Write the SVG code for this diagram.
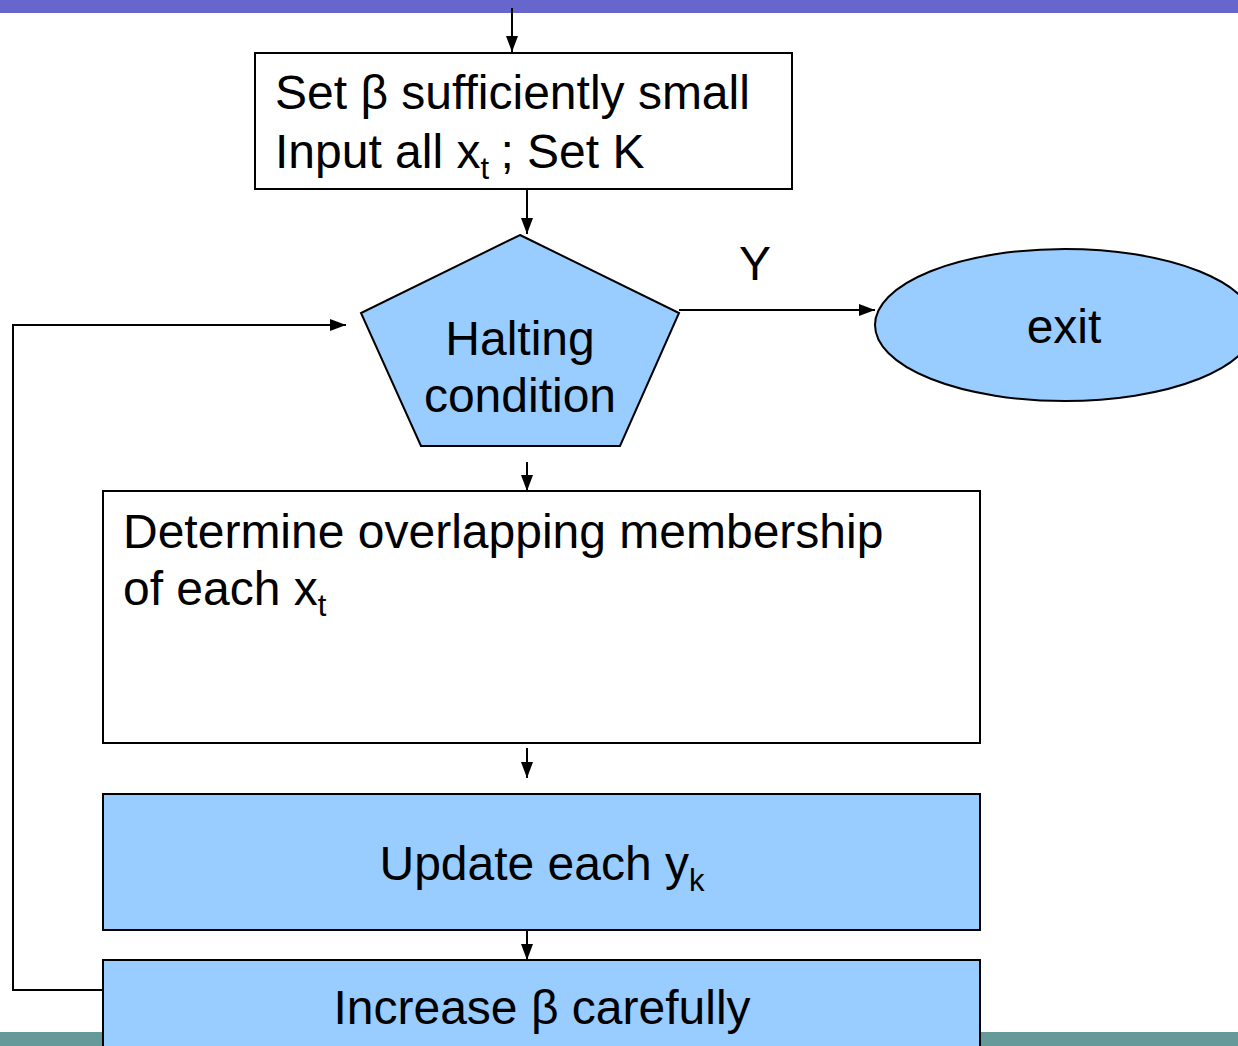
<svg xmlns="http://www.w3.org/2000/svg" width="1238" height="1046" viewBox="0 0 1238 1046">
<style>
text{font-family:"Liberation Sans",Arial,sans-serif;font-size:48px;fill:#000}
.box{stroke:#000;stroke-width:2}
.w{fill:#fff}
.b{fill:#99CCFF}
.c{fill:none;stroke:#000;stroke-width:2}
.sub{font-size:31px}
</style>
<defs>
<marker id="ah" viewBox="0 0 16 12" refX="16" refY="6" markerWidth="16" markerHeight="12" orient="auto" markerUnits="userSpaceOnUse">
<path d="M0,0 L16,6 L0,12 z" fill="#000"/>
</marker>
</defs>
<rect x="0" y="0" width="1238" height="13" fill="#6666CC"/>
<rect x="0" y="1032" width="1238" height="14" fill="#669999"/>
<g id="connectors">
<path class="c" d="M512,8 L512,52" marker-end="url(#ah)"/>
<path class="c" d="M527,190 L527,234" marker-end="url(#ah)"/>
<path class="c" d="M679,310 L875,310" marker-end="url(#ah)"/>
<path class="c" d="M527,462 L527,491" marker-end="url(#ah)"/>
<path class="c" d="M527,748 L527,778" marker-end="url(#ah)"/>
<path class="c" d="M527,931 L527,960" marker-end="url(#ah)"/>
<path class="c" d="M103,990 L13,990 L13,325 L346,325" marker-end="url(#ah)"/>
<text x="755" y="280" text-anchor="middle">Y</text>
</g>
<g id="init">
<rect class="box w" x="255" y="53" width="537" height="136"/>
<text x="275" y="109">Set β sufficiently small</text>
<text x="275" y="168">Input all x<tspan class="sub" dy="11">t</tspan><tspan dy="-11" dx="-2"> ; Set K</tspan></text>
</g>
<g id="halting">
<polygon class="box b" points="520,235 679,313 620,446 421,446 361,313"/>
<text x="520" y="355" text-anchor="middle">Halting</text>
<text x="520" y="412" text-anchor="middle">condition</text>
</g>
<g id="exit">
<ellipse class="box b" cx="1065" cy="325" rx="190" ry="76"/>
<text x="1064" y="343" text-anchor="middle">exit</text>
</g>
<g id="membership">
<rect class="box w" x="103" y="491" width="877" height="252"/>
<text x="123" y="548">Determine overlapping membership</text>
<text x="123" y="605">of each x<tspan class="sub" dy="11">t</tspan></text>
</g>
<g id="update">
<rect class="box b" x="103" y="794" width="877" height="136"/>
<text x="542" y="880" text-anchor="middle">Update each y<tspan class="sub" dy="11">k</tspan></text>
</g>
<g id="increase">
<rect class="box b" x="103" y="960" width="877" height="100"/>
<text x="542" y="1024" text-anchor="middle">Increase β carefully</text>
</g>
</svg>
